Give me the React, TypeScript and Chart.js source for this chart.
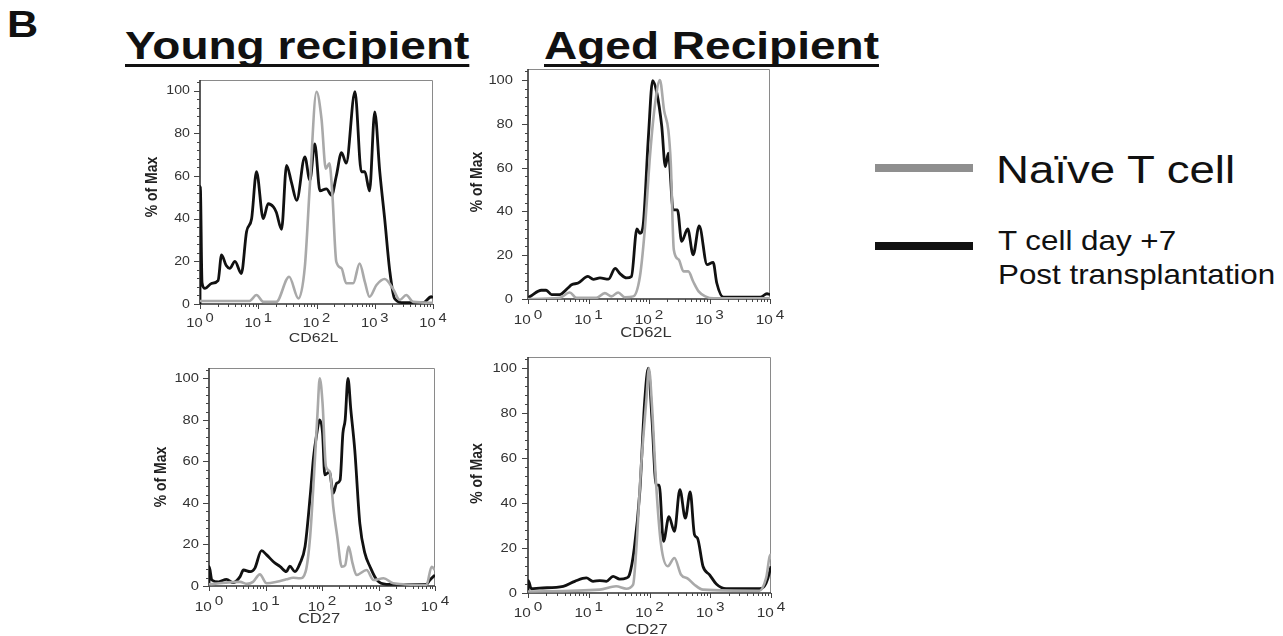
import React, { useEffect, useRef } from 'react';
import { Chart, registerables } from 'chart.js';

Chart.register(...registerables);

type Pt = [number, number]; // [log10 of fluorescence, % of Max]

// ---- Young recipient, CD62L ----
const youngCD62LNaive: Pt[] = [
  [0, 1.4], [0.85, 1.4], [0.97, 4.2], [1.09, 1], [1.31, 1], [1.53, 12.8], [1.69, 2.6],
  [1.8, 17.5], [1.886, 55.6], [2.0, 99.5], [2.086, 86.8], [2.16, 63.4], [2.22, 66],
  [2.27, 52.5], [2.34, 19.8], [2.43, 16.7], [2.51, 9.7], [2.63, 9.7], [2.74, 19],
  [2.83, 10.4], [2.91, 3.4], [3.03, 8.9], [3.17, 11.7], [3.31, 7.3], [3.43, 1.9],
  [3.54, 4.2], [3.66, 1], [4, 0.6],
];
const youngCD62LDay7: Pt[] = [
  [0, 0], [0.005, 55], [0.035, 10], [0.086, 7.3], [0.2, 9.7], [0.31, 11], [0.37, 23],
  [0.45, 18], [0.51, 16.7], [0.6, 20], [0.71, 14.3], [0.8, 34], [0.886, 40], [0.97, 62],
  [1.086, 40], [1.17, 47], [1.26, 45.5], [1.31, 43], [1.4, 35], [1.486, 65], [1.57, 57],
  [1.66, 48.6], [1.8, 69], [1.886, 58], [1.97, 75], [2.06, 53], [2.17, 54], [2.26, 51],
  [2.34, 60], [2.43, 71], [2.51, 66], [2.66, 99.5], [2.77, 62], [2.83, 62], [2.91, 53],
  [3.0, 90], [3.086, 62], [3.17, 40], [3.26, 15], [3.34, 2.6], [3.49, 0.6], [3.83, 0.6],
  [3.97, 3.4], [4, 3],
];

// ---- Aged recipient, CD62L ----
const agedCD62LNaive: Pt[] = [
  [0, 0], [0.52, 0.5], [0.69, 3], [0.8, 0.5], [1.13, 0.5], [1.27, 2.7], [1.38, 1.2],
  [1.49, 3], [1.6, 0.8], [1.74, 1.2], [1.85, 10.3], [1.93, 31.6], [2.02, 66.6], [2.1, 89],
  [2.18, 100], [2.25, 86], [2.32, 77], [2.36, 62], [2.41, 22.5], [2.49, 18], [2.57, 12.6],
  [2.65, 12.6], [2.73, 8], [2.82, 3.5], [2.93, 1.2], [3.07, 0.3], [4, 0.3],
];
const agedCD62LDay7: Pt[] = [
  [0, 0.5], [0.055, 1.5], [0.22, 4], [0.3, 4], [0.39, 2], [0.52, 2], [0.66, 5], [0.72, 6.5],
  [0.83, 7.3], [0.99, 10.3], [1.08, 9], [1.19, 9.6], [1.33, 9.1], [1.44, 14], [1.52, 11.6],
  [1.63, 9.6], [1.71, 10.3], [1.8, 32], [1.85, 30], [1.9, 33], [1.99, 74], [2.06, 99.7],
  [2.13, 94], [2.21, 79], [2.27, 60.5], [2.32, 66.6], [2.4, 40.7], [2.47, 40.7],
  [2.54, 26.3], [2.64, 32], [2.73, 20.2], [2.83, 33.4], [2.96, 15.7], [3.06, 16.7],
  [3.12, 7.3], [3.23, 0.8], [3.84, 0.8], [3.95, 2.4], [4, 2],
];

// ---- Young recipient, CD27 ----
const youngCD27Naive: Pt[] = [
  [0, 0.8], [0.55, 2], [0.67, 1], [0.78, 2], [0.9, 5.6], [1.02, 1.3], [1.2, 2], [1.37, 3.2],
  [1.49, 4], [1.61, 3.7], [1.71, 6.9], [1.79, 23.8], [1.86, 54], [1.92, 83], [1.96, 100],
  [2.01, 88], [2.07, 57.5], [2.14, 55], [2.2, 38], [2.27, 23.8], [2.35, 9.3], [2.41, 10],
  [2.47, 19], [2.54, 11], [2.61, 5.3], [2.79, 7.7], [2.91, 2.9], [3.09, 3.7], [3.26, 1.3],
  [3.85, 0.5], [3.94, 9.3], [4, 7.7],
];
const youngCD27Day7: Pt[] = [
  [0, 0], [0.004, 9.3], [0.05, 2.9], [0.17, 2], [0.31, 3.2], [0.43, 1.6], [0.55, 4.5],
  [0.61, 7.7], [0.73, 6.9], [0.81, 8.5], [0.93, 17], [1.02, 15], [1.14, 11.7], [1.26, 9.3],
  [1.37, 6.9], [1.43, 9.6], [1.52, 6.9], [1.61, 10.9], [1.7, 19], [1.79, 43], [1.85, 62],
  [1.9, 72], [1.96, 80], [2.01, 73.6], [2.05, 53.5], [2.13, 55], [2.2, 44.7], [2.26, 49.5],
  [2.32, 51], [2.37, 73.6], [2.41, 80], [2.46, 100], [2.51, 85], [2.58, 65.5], [2.67, 30],
  [2.76, 15.7], [2.85, 9.3], [2.97, 2.9], [3.14, 0.8], [3.85, 0.8], [3.91, 2.9], [4, 5.3],
];

// ---- Aged recipient, CD27 ----
const agedCD27Naive: Pt[] = [
  [0, 0.7], [1.18, 1.5], [1.45, 3], [1.62, 1.9], [1.73, 3.7], [1.78, 18.5], [1.86, 55.5],
  [1.95, 86.7], [1.99, 100], [2.04, 83.7], [2.11, 48], [2.19, 21.5], [2.3, 11.9],
  [2.41, 15.6], [2.52, 8.1], [2.63, 6.4], [2.74, 3.7], [2.88, 1.5], [3.81, 1], [3.92, 6.7],
  [3.99, 17], [4, 15],
];
const agedCD27Day7: Pt[] = [
  [0, 0], [0.004, 5.5], [0.055, 1.9], [0.19, 2.2], [0.58, 3], [0.77, 5.2], [0.96, 6.7],
  [1.07, 5.2], [1.18, 5.5], [1.29, 5.2], [1.4, 7.4], [1.51, 6.2], [1.62, 6.7], [1.67, 8.1],
  [1.75, 20], [1.84, 45], [1.92, 85], [1.98, 100], [2.04, 77.8], [2.11, 48], [2.16, 48],
  [2.23, 23], [2.32, 34], [2.41, 27.4], [2.5, 46], [2.59, 33.3], [2.67, 45], [2.74, 26],
  [2.79, 24.4], [2.88, 11.9], [2.99, 8.1], [3.1, 4], [3.26, 1.9], [3.81, 1.9], [3.89, 3],
  [3.95, 6.7], [4, 11.9],
];

// ---- axis ticks / labels ----
const xDecades = [0, 1, 2, 3, 4];
const yTickLabels = [0, 20, 40, 60, 80, 100];
const yMinorStep = 4;
const Y_MAX = 105;
const yAxisTitle = '% of Max';
const legendNaive = 'Naïve T cell';
const legendDay7 = ['T cell day +7', 'Post transplantation'];

const FONT = '"Liberation Sans", Arial, Helvetica, sans-serif';
const SX = 1.18; // horizontal text stretch seen in the figure

function stretchText(ctx: CanvasRenderingContext2D, text: string, x: number, y: number, align: CanvasTextAlign) {
  ctx.save();
  ctx.translate(x, y);
  ctx.scale(SX, 1);
  ctx.textAlign = align;
  ctx.fillText(text, 0, 0);
  ctx.restore();
}

const axisPlugin = {
  id: 'facsAxes',
  beforeDatasetsDraw(chart: any) {
    const { ctx, chartArea: a } = chart;
    ctx.save();
    ctx.lineWidth = 1;
    ctx.strokeStyle = '#8a8a8a';
    ctx.beginPath();
    ctx.moveTo(a.left, a.top + 0.5);
    ctx.lineTo(a.right - 0.5, a.top + 0.5);
    ctx.lineTo(a.right - 0.5, a.bottom);
    ctx.stroke();
    ctx.lineWidth = 1.6;
    ctx.strokeStyle = '#333';
    ctx.beginPath();
    ctx.moveTo(a.left, a.top);
    ctx.lineTo(a.left, a.bottom);
    ctx.lineTo(a.right, a.bottom);
    ctx.stroke();
    ctx.restore();
  },
  afterDraw(chart: any, _args: any, o: any) {
    const { ctx, chartArea: a, scales } = chart;
    const xs = scales.x;
    const ys = scales.y;
    ctx.save();
    ctx.strokeStyle = '#444';
    ctx.lineWidth = 1;
    // y ticks
    for (let v = 0; v <= 104; v += yMinorStep) {
      const len = v % 20 === 0 ? 6 : 3;
      const y = Math.round(ys.getPixelForValue(v)) + 0.5;
      ctx.beginPath();
      ctx.moveTo(a.left - len, y);
      ctx.lineTo(a.left, y);
      ctx.stroke();
    }
    // x ticks (log)
    for (const d of xDecades) {
      const ks = d === 4 ? [1] : [1, 2, 3, 4, 5, 6, 7, 8, 9];
      for (const k of ks) {
        const len = k === 1 ? 5 : 3;
        const x = Math.round(xs.getPixelForValue(k * Math.pow(10, d))) + 0.5;
        ctx.beginPath();
        ctx.moveTo(x, a.bottom);
        ctx.lineTo(x, a.bottom + len);
        ctx.stroke();
      }
    }
    // y labels
    ctx.fillStyle = '#333';
    ctx.font = `${o.fs}px ${FONT}`;
    ctx.textBaseline = 'middle';
    for (const v of yTickLabels) {
      stretchText(ctx, String(v), a.left - o.yGap, ys.getPixelForValue(v) + 0.5, 'right');
    }
    // x labels 10^n
    ctx.font = `${o.fs + 0.5}px ${FONT}`;
    ctx.textBaseline = 'alphabetic';
    for (const d of xDecades) {
      const px = xs.getPixelForValue(Math.pow(10, d));
      const w1 = ctx.measureText('10').width;
      const w2 = ctx.measureText(String(d)).width;
      const gap = 2.5;
      const total = (w1 + gap + w2) * SX;
      const x0 = px - total / 2;
      stretchText(ctx, '10', x0, a.bottom + o.xBase, 'left');
      stretchText(ctx, String(d), x0 + (w1 + gap) * SX, a.bottom + o.xBase - o.raise, 'left');
    }
    // x title
    ctx.font = `${o.fs + 1.5}px ${FONT}`;
    stretchText(ctx, o.xTitle, (a.left + a.right) / 2 - 3, a.bottom + o.tBase, 'center');
    // y title
    ctx.save();
    ctx.font = `bold ${o.yTitleFs}px ${FONT}`;
    ctx.fillStyle = '#222';
    ctx.translate(a.left - o.yTitleOff, (a.top + a.bottom) / 2 + o.yTitleShift);
    ctx.rotate(-Math.PI / 2);
    ctx.scale(1, SX);
    ctx.textAlign = 'center';
    ctx.textBaseline = 'middle';
    ctx.fillText(yAxisTitle, 0, 0);
    ctx.restore();
    ctx.restore();
  },
};

interface PanelCfg {
  box: { l: number; t: number; r: number; b: number };
  naive: Pt[];
  day7: Pt[];
  xTitle: string;
  fs: number;
  yGap: number;
  xBase: number;
  raise: number;
  tBase: number;
  yTitleOff: number;
  yTitleShift: number;
  yTitleFs: number;
}

const PAD = { left: 75, top: 15, right: 24, bottom: 52 };

function Panel({ cfg }: { cfg: PanelCfg }) {
  const ref = useRef<HTMLCanvasElement>(null);
  const w = cfg.box.r - cfg.box.l + PAD.left + PAD.right;
  const h = cfg.box.b - cfg.box.t + PAD.top + PAD.bottom;
  useEffect(() => {
    if (!ref.current) return;
    const toXY = (pts: Pt[]) => pts.map(([e, v]) => ({ x: Math.pow(10, e), y: v }));
    const chart = new Chart(ref.current, {
      type: 'line',
      data: {
        datasets: [
          {
            data: toXY(cfg.naive),
            borderColor: '#a9a9a9',
            borderWidth: 2.6,
            pointRadius: 0,
            cubicInterpolationMode: 'monotone',
            fill: false,
          },
          {
            data: toXY(cfg.day7),
            borderColor: '#111111',
            borderWidth: 2.8,
            pointRadius: 0,
            cubicInterpolationMode: 'monotone',
            fill: false,
          },
        ],
      } as any,
      options: {
        responsive: false,
        animation: false,
        events: [],
        layout: { padding: PAD },
        scales: {
          x: { type: 'logarithmic', min: 1, max: 10000, display: false },
          y: { type: 'linear', min: 0, max: Y_MAX, display: false },
        },
        plugins: {
          legend: { display: false },
          tooltip: { enabled: false },
          facsAxes: cfg,
        } as any,
      },
      plugins: [axisPlugin as any],
    });
    return () => chart.destroy();
  }, []);
  return (
    <canvas
      ref={ref}
      width={w}
      height={h}
      style={{ position: 'absolute', left: cfg.box.l - PAD.left, top: cfg.box.t - PAD.top, width: w, height: h }}
    />
  );
}

const panels: PanelCfg[] = [
  { box: { l: 200, t: 80, r: 433, b: 304 }, naive: youngCD62LNaive, day7: youngCD62LDay7, xTitle: 'CD62L',
    fs: 12, yGap: 10, xBase: 23, raise: 5, tBase: 38, yTitleOff: 48, yTitleShift: -5, yTitleFs: 14 },
  { box: { l: 528, t: 69, r: 770, b: 299 }, naive: agedCD62LNaive, day7: agedCD62LDay7, xTitle: 'CD62L',
    fs: 12.5, yGap: 15, xBase: 25, raise: 5.5, tBase: 37.5, yTitleOff: 51, yTitleShift: -2, yTitleFs: 14 },
  { box: { l: 209, t: 368, r: 435, b: 586 }, naive: youngCD27Naive, day7: youngCD27Day7, xTitle: 'CD27',
    fs: 12.5, yGap: 10, xBase: 24.5, raise: 5.5, tBase: 37, yTitleOff: 47.5, yTitleShift: 0, yTitleFs: 14 },
  { box: { l: 528, t: 357, r: 771, b: 593 }, naive: agedCD27Naive, day7: agedCD27Day7, xTitle: 'CD27',
    fs: 12.5, yGap: 11, xBase: 23.5, raise: 5.5, tBase: 41, yTitleOff: 51, yTitleShift: -1.5, yTitleFs: 14 },
];

const abs = (s: React.CSSProperties): React.CSSProperties => ({ position: 'absolute', whiteSpace: 'nowrap', ...s });

const titleStyle: React.CSSProperties = {
  top: 26.3,
  fontSize: 39,
  lineHeight: '39px',
  fontWeight: 'bold',
  textDecorationLine: 'underline',
  textDecorationThickness: '3px',
  textUnderlineOffset: '5px',
  textDecorationSkipInk: 'none' as any,
  transformOrigin: 'left top',
};

export default function App() {
  return (
    <div style={abs({ left: 0, top: 0, width: 1283, height: 636, background: '#fff', fontFamily: FONT, color: '#111', overflow: 'hidden' })}>
      <div style={abs({ left: 7, top: 6.5, fontSize: 36, lineHeight: '36px', fontWeight: 'bold', transform: 'scaleX(1.2)', transformOrigin: 'left top' })}>B</div>
      <div style={abs({ ...titleStyle, left: 125, transform: 'scaleX(1.18)' })}>Young recipient</div>
      <div style={abs({ ...titleStyle, left: 544, transform: 'scaleX(1.18)' })}>Aged Recipient</div>

      {panels.map((p, i) => <Panel key={i} cfg={p} />)}

      <div style={abs({ left: 875, top: 164, width: 98, height: 8, background: '#8f8f8f' })} />
      <div style={abs({ left: 875, top: 242, width: 98, height: 8, background: '#111' })} />
      <div style={abs({ left: 996, top: 151, fontSize: 38, lineHeight: '38px', transform: 'scaleX(1.2)', transformOrigin: 'left top' })}>{legendNaive}</div>
      <div style={abs({ left: 998, top: 224.4, fontSize: 28, lineHeight: '33.3px', transform: 'scaleX(1.12)', transformOrigin: 'left top' })}>
        {legendDay7[0]}<br />{legendDay7[1]}
      </div>
    </div>
  );
}
